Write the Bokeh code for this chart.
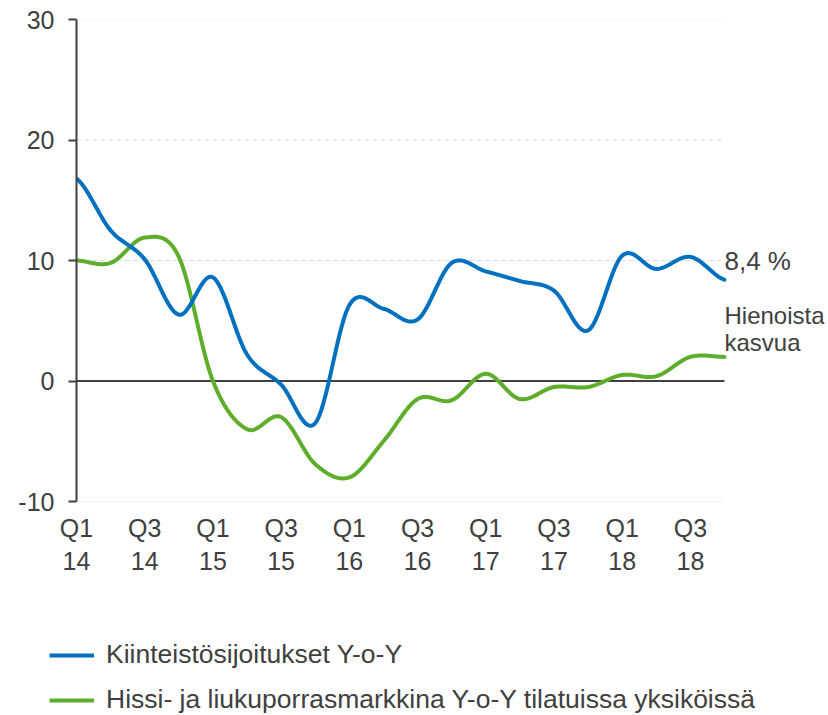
import numpy as np
from bokeh.plotting import figure
from bokeh.models import (Range1d, FixedTicker, LinearAxis, Label, Legend, LegendItem)
from bokeh.embed import file_html
from bokeh.resources import INLINE

# ---- data (quarterly, Q1 2014 .. Q4 2018) ----
quarters = ["Q1 14", "Q2 14", "Q3 14", "Q4 14", "Q1 15", "Q2 15", "Q3 15", "Q4 15",
            "Q1 16", "Q2 16", "Q3 16", "Q4 16", "Q1 17", "Q2 17", "Q3 17", "Q4 17",
            "Q1 18", "Q2 18", "Q3 18", "Q4 18"]
kiinteisto = [16.8, 12.5, 10.1, 5.5, 8.6, 2.2, -0.3, -3.5, 6.3, 6.0,
              5.1, 9.8, 9.1, 8.3, 7.5, 4.2, 10.4, 9.3, 10.3, 8.4]
hissi = [10.0, 9.8, 11.9, 10.3, 0.0, -4.0, -3.0, -6.9, -8.0, -5.0,
         -1.5, -1.6, 0.6, -1.5, -0.5, -0.5, 0.5, 0.4, 2.0, 2.0]
tick_pos = [0, 2, 4, 6, 8, 10, 12, 14, 16, 18]
tick_q = ["Q1", "Q3", "Q1", "Q3", "Q1", "Q3", "Q1", "Q3", "Q1", "Q3"]
tick_y = ["14", "14", "15", "15", "16", "16", "17", "17", "18", "18"]
y_ticks = [-10, 0, 10, 20, 30]
grid_levels = [-10, 10, 20, 30]
series_names = ["Kiinteistösijoitukset Y-o-Y",
                "Hissi- ja liukuporrasmarkkina Y-o-Y tilatuissa yksiköissä"]

BLUE = "#0070BF"
GREEN = "#5EAE2C"
TXT = "#404040"
FONT = "Liberation Sans"


def smooth(vals, steps=24):
    """Catmull-Rom curve through the data points (Excel-like smoothed line)."""
    y = np.asarray(vals, dtype=float)
    n = len(y)
    xs, ys = [], []
    for i in range(n - 1):
        p0 = y[i - 1] if i > 0 else y[i]
        p1, p2 = y[i], y[i + 1]
        p3 = y[i + 2] if i + 2 < n else y[i + 1]
        t = np.linspace(0, 1, steps, endpoint=False)
        v = 0.5 * (2 * p1 + (-p0 + p2) * t + (2 * p0 - 5 * p1 + 4 * p2 - p3) * t ** 2
                   + (-p0 + 3 * p1 - 3 * p2 + p3) * t ** 3)
        xs.extend(i + t)
        ys.extend(v)
    xs.append(n - 1)
    ys.append(y[-1])
    return np.array(xs), np.array(ys)


last = len(quarters) - 1
W = 826
LEFT = 76
PXQ = (724 - LEFT) / last          # pixels per quarter
x_end = (W - 2 - LEFT) / PXQ       # frame extends right to make room for the notes

p = figure(width=W, height=590, output_backend="svg", toolbar_location=None,
           x_range=Range1d(0, x_end), y_range=Range1d(-10, 30),
           x_axis_type=None)
p.min_border_left = LEFT
p.min_border_right = 2
p.min_border_top = 19
p.min_border_bottom = 89
p.outline_line_color = None
p.background_fill_color = "white"

# y axis
p.yaxis.ticker = FixedTicker(ticks=y_ticks)
p.yaxis.major_label_overrides = {t: str(t) for t in y_ticks}
p.yaxis.axis_line_color = TXT
p.yaxis.axis_line_width = 2
p.yaxis.major_tick_line_color = TXT
p.yaxis.major_tick_line_width = 2
p.yaxis.major_tick_out = 8
p.yaxis.major_tick_in = 0
p.yaxis.minor_tick_line_color = None
p.yaxis.major_label_text_font = FONT
p.yaxis.major_label_text_font_size = "25px"
p.yaxis.major_label_text_color = TXT
p.yaxis.major_label_standoff = 14

p.grid.grid_line_color = None

# x axes: quarter row and year row
for labels, standoff in ((tick_q, 6), (tick_y, 1)):
    ax = LinearAxis(ticker=FixedTicker(ticks=tick_pos),
                    major_label_overrides={t: l for t, l in zip(tick_pos, labels)})
    ax.axis_line_color = None
    ax.major_tick_line_color = None
    ax.minor_tick_line_color = None
    ax.major_label_text_font = FONT
    ax.major_label_text_font_size = "25px"
    ax.major_label_text_color = TXT
    ax.major_label_standoff = standoff
    p.add_layout(ax, "below")

# gridlines (only across the data span) and zero line
p.segment(x0=[0] * len(grid_levels), x1=[last] * len(grid_levels), y0=grid_levels, y1=grid_levels,
          line_color="#D5DEEE", line_width=1, line_dash="5 3")
p.segment(x0=[0], x1=[last], y0=[0], y1=[0], line_color=TXT, line_width=2)

xb, yb = smooth(kiinteisto)
xg, yg = smooth(hissi)
p.line(xg, yg, line_color=GREEN, line_width=4, line_join="round", line_cap="round")
p.line(xb, yb, line_color=BLUE, line_width=4, line_join="round", line_cap="round")

p.add_layout(Label(x=last, y=10.0, text="8,4 %", x_offset=0, text_baseline="middle",
                   text_font=FONT, text_font_size="26px", text_color=TXT))
p.add_layout(Label(x=last, y=5.4, text="Hienoista", x_offset=0, text_baseline="middle",
                   text_font=FONT, text_font_size="24px", text_color=TXT))
p.add_layout(Label(x=last, y=3.2, text="kasvua", x_offset=0, text_baseline="middle",
                   text_font=FONT, text_font_size="24px", text_color=TXT))

# legend panel (separate root, so its frame starts at the left edge)
p2 = figure(width=W, height=125, output_backend="svg", toolbar_location=None,
            x_range=Range1d(0, 1), y_range=Range1d(0, 1),
            x_axis_type=None, y_axis_type=None)
p2.min_border = 0
p2.min_border_left = 0
p2.outline_line_color = None
p2.grid.grid_line_color = None
lb = p2.line([-5, -4], [-5, -5], line_color=BLUE, line_width=4)
lg = p2.line([-5, -4], [-5, -5], line_color=GREEN, line_width=4)
legend = Legend(items=[LegendItem(label=series_names[0], renderers=[lb]),
                       LegendItem(label=series_names[1], renderers=[lg])],
                location=(49, 0), orientation="vertical")
legend.label_text_font = FONT
legend.label_text_font_size = "26.5px"
legend.label_text_color = TXT
legend.glyph_width = 45
legend.glyph_height = 30
legend.label_standoff = 12
legend.spacing = 14
legend.border_line_color = None
legend.background_fill_alpha = 0
legend.margin = 0
legend.padding = 0
p2.add_layout(legend, "center")

open("out.html", "w").write(file_html([p, p2], INLINE))
